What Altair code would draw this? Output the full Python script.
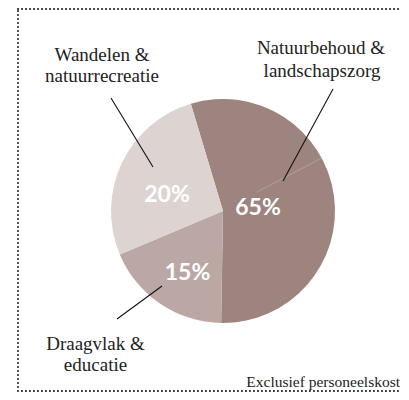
import math
import altair as alt
import pandas as pd

# ---- data ----
categories = ["Natuurbehoud & landschapszorg", "Draagvlak & educatie", "Wandelen & natuurrecreatie"]
slice_sizes = [54.9, 18.4, 26.7]          # drawn angular share of each slice (as seen)
pct_labels = ["65%", "15%", "20%"]
label_lines = [["Natuurbehoud &", "landschapszorg"],
               ["Draagvlak &", "educatie"],
               ["Wandelen &", "natuurrecreatie"]]
footnote = "Exclusief personeelskost"

# ---- styles / layout (page pixel coordinates) ----
OFF = 8
colors = ["#9d847f", "#bba7a4", "#ddd3d1"]
W, H = 409 - 2 * OFF, 400 - 2 * OFF
CX, CY, R = 223, 211, 112
start = math.radians(-16.7)
pct_pos = [(258, 215), (187.5, 280), (167, 202)]
label_pos = [[(321, 54), (322, 77)], [(95.5, 350), (95.5, 371)], [(102, 61), (102, 82)]]
leaders = [((333, 89), (283, 181)), ((162, 286), (117, 319)), ((111, 98), (153, 167))]
faint = ((257, 192), (322, 158))
SERIF = "'Liberation Serif', 'Times New Roman', serif"

def c(v):
    return v - OFF

xs = alt.Scale(domain=[0, W], range=[0, W])
ys = alt.Scale(domain=[0, H], range=[0, H])

pie_df = pd.DataFrame({"cat": categories, "size": slice_sizes, "order": [0, 1, 2]})
pie = alt.Chart(pie_df).mark_arc(outerRadius=R, stroke=None).encode(
    theta=alt.Theta("size:Q", stack=True, scale=alt.Scale(range=[start, start + 2 * math.pi])),
    order=alt.Order("order:Q"),
    color=alt.Color("cat:N", scale=alt.Scale(domain=categories, range=colors), legend=None),
    x=alt.value(c(CX)), y=alt.value(c(CY)),
)

faint_df = pd.DataFrame({"fx": [c(faint[0][0])], "fy": [c(faint[0][1])],
                         "fx2": [c(faint[1][0])], "fy2": [c(faint[1][1])]})
faint_rule = alt.Chart(faint_df).mark_rule(color="#b9a6a3", strokeWidth=0.8).encode(
    x=alt.X("fx:Q", scale=xs, axis=None), y=alt.Y("fy:Q", scale=ys, axis=None), x2="fx2:Q", y2="fy2:Q")

lead_df = pd.DataFrame({"lx": [c(a[0]) for a, b in leaders], "ly": [c(a[1]) for a, b in leaders],
                        "lx2": [c(b[0]) for a, b in leaders], "ly2": [c(b[1]) for a, b in leaders]})
lead = alt.Chart(lead_df).mark_rule(color="#111111", strokeWidth=1.1).encode(
    x=alt.X("lx:Q", scale=xs, axis=None), y=alt.Y("ly:Q", scale=ys, axis=None), x2="lx2:Q", y2="ly2:Q")

pct_df = pd.DataFrame({"pt": pct_labels, "px": [c(p[0]) for p in pct_pos], "py": [c(p[1]) for p in pct_pos]})
pct = alt.Chart(pct_df).mark_text(font="Lato", fontWeight="bold", fontSize=23, color="white",
                                  align="center", baseline="alphabetic").encode(
    x=alt.X("px:Q", scale=xs, axis=None), y=alt.Y("py:Q", scale=ys, axis=None), text="pt:N")

rows = []
for lines, poss in zip(label_lines, label_pos):
    for ln, (px, py) in zip(lines, poss):
        rows.append({"lt": ln, "tx": c(px), "ty": c(py)})
lab_df = pd.DataFrame(rows)
labels = alt.Chart(lab_df).mark_text(font=SERIF, fontSize=19, color="#222222",
                                     align="center", baseline="alphabetic").encode(
    x=alt.X("tx:Q", scale=xs, axis=None), y=alt.Y("ty:Q", scale=ys, axis=None), text="lt:N")

foot_df = pd.DataFrame({"ft": [footnote], "fx": [c(400)], "fy": [c(387)]})
foot = alt.Chart(foot_df).mark_text(font=SERIF, fontSize=15.5, color="#222222",
                                    align="right", baseline="alphabetic").encode(
    x=alt.X("fx:Q", scale=xs, axis=None), y=alt.Y("fy:Q", scale=ys, axis=None), text="ft:N")

border = alt.Chart(pd.DataFrame({"a": [0]})).mark_rect(
    fill=None, stroke="#111111", strokeWidth=1.9, strokeDash=[0.1, 3.9], strokeCap="round").encode(
    x=alt.value(c(18)), x2=alt.value(W + 20), y=alt.value(1), y2=alt.value(H - 1))

chart = alt.layer(border, pie, faint_rule, lead, pct, labels, foot).properties(
    width=W, height=H, autosize=alt.AutoSizeParams(type="none"), padding=0,
    background="white").configure_view(stroke=None).configure_text(font=SERIF)

chart.save("out.html", embed_options={"renderer": "svg", "actions": False})
